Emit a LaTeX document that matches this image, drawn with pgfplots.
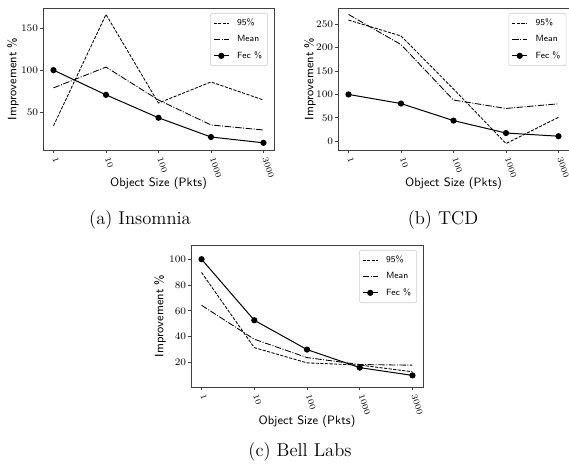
\documentclass[border=0pt]{standalone}
\usepackage{pgfplots}
\pgfplotsset{compat=1.18}
\pgfplotstableread{
x p95 mean fec
0 34 79 100
1 166 103.6 70.7
2 61 64.6 43.5
3 86 35 20.7
4 64.6 29 13.8
}\insomnia
\pgfplotstableread{
x p95 mean fec
0 259 271 100
1 225 206.6 80.5
2 111.6 88 44
3 -5 70 17.5
4 51 80 10.7
}\tcd
\pgfplotstableread{
x p95 mean fec
0 89.7 64.3 100
1 31.5 38 52.7
2 19.7 23.8 30
3 18 18.4 16
4 12.8 17.9 10
}\bell
\pgfplotsset{
 myax/.style={
  scale only axis, width=161.7pt, height=99.4pt,
  xmin=-0.2, xmax=4.2, xtick={0,...,4}, xticklabels={1,10,100,1000,3000},
  xticklabel style={rotate=-72, anchor=west, font=\fontsize{6}{7}\selectfont},
  yticklabel style={font=\fontsize{7}{8}\selectfont, inner xsep=1pt},
  tick align=outside, xtick pos=left, ytick pos=left, major tick length=2.2pt,
  axis line style={black!75, line width=0.6pt},
  tick style={black!75, line width=0.5pt},
  xlabel={Object Size (Pkts)}, ylabel={Improvement \%},
  label style={font=\sffamily\fontsize{8.5}{10}\selectfont},
  ylabel style={at={(axis description cs:-0.13,0.5)}, anchor=center},
  xlabel style={at={(axis description cs:0.5,-0.235)}, anchor=center},
  legend style={draw=black!20, rounded corners=1.5pt, font=\sffamily\fontsize{6.3}{7}\selectfont,
    anchor=north east, row sep=1.4pt, column sep=3.5pt, inner xsep=2pt, inner ysep=1.8pt},
  legend cell align=left,
  legend image code/.code={\draw[mark repeat=2,mark phase=2] plot coordinates {(0pt,0pt)(5.25pt,0pt)(10.5pt,0pt)};},
 },
 s95/.style={black, line width=0.6pt, dash pattern=on 2.2pt off 1pt, mark=none},
 smean/.style={black, line width=0.6pt, dash pattern=on 4.5pt off 1.1pt on 0.7pt off 1.1pt, mark=none},
 sfec/.style={black, line width=0.7pt, mark=*, mark size=1.8pt},
}
\begin{document}
\begin{tikzpicture}
\useasboundingbox (0,0) rectangle (398.3pt,324.1pt);
% (a)
\begin{axis}[myax, at={(30.1pt,219.1pt)}, anchor=south west,
  ymin=5.3, ymax=173.7, ytick={50,100,150},
  legend style={at={(0.974,0.965)}}]
\addplot[s95] table[x=x,y=p95]{\insomnia};
\addlegendentry{95\%}
\addplot[smean] table[x=x,y=mean]{\insomnia};
\addlegendentry{Mean}
\addplot[sfec] table[x=x,y=fec]{\insomnia};
\addlegendentry{Fec \%}
\end{axis}
% (b)
\begin{axis}[myax, at={(236.6pt,219.1pt)}, anchor=south west,
  ymin=-18.8, ymax=284.8, ytick={0,50,...,250},
  ylabel style={at={(axis description cs:-0.121,0.5)}},
  legend style={at={(0.989,0.965)}}]
\addplot[s95] table[x=x,y=p95]{\tcd};
\addlegendentry{95\%}
\addplot[smean] table[x=x,y=mean]{\tcd};
\addlegendentry{Mean}
\addplot[sfec] table[x=x,y=fec]{\tcd};
\addlegendentry{Fec \%}
\end{axis}
% (c)
\begin{axis}[myax, at={(133.7pt,53.2pt)}, anchor=south west, width=162.4pt,
  ymin=1, ymax=111, ytick={20,40,...,100},
  ylabel style={at={(axis description cs:-0.134,0.5)}},
  xlabel style={at={(axis description cs:0.5,-0.244)}},
  legend style={at={(0.974,0.965)}}]
\addplot[s95] table[x=x,y=p95]{\bell};
\addlegendentry{95\%}
\addplot[smean] table[x=x,y=mean]{\bell};
\addlegendentry{Mean}
\addplot[sfec] table[x=x,y=fec]{\bell};
\addlegendentry{Fec \%}
\end{axis}
\node[font=\fontsize{13}{15}\selectfont] at (98pt,170.5pt) {(a)~Insomnia};
\node[font=\fontsize{13}{15}\selectfont] at (310.1pt,170.5pt) {(b)~TCD};
\node[font=\fontsize{13}{15}\selectfont] at (210pt,7.5pt) {(c)~Bell Labs};
\end{tikzpicture}
\end{document}
